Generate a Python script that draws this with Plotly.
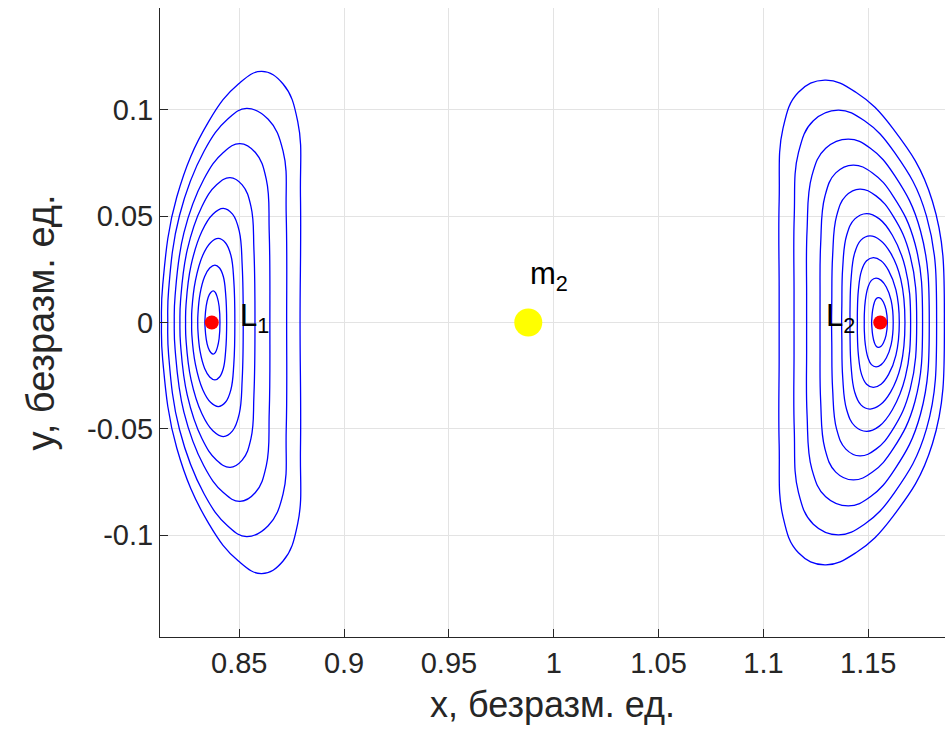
import plotly.graph_objects as go

# Earth-Moon CR3BP: planar Lyapunov orbit families around L1 and L2
L1_X = 0.8369
L2_X = 1.1557
M2_X = 0.98785

# Upper half of each orbit (the families are symmetric about y = 0).
# Points run from the left x-axis crossing, over the top, to the right crossing.
L1_ORBITS_X = [
    [0.8336, 0.8337, 0.8342, 0.8352, 0.8364, 0.8376, 0.8386, 0.8395, 0.8404, 0.8408],
    [0.8302, 0.8303, 0.8313, 0.8335, 0.8359, 0.8384, 0.8406, 0.8424, 0.8435, 0.8440],
    [0.8273, 0.8274, 0.8291, 0.8326, 0.8363, 0.8400, 0.8434, 0.8460, 0.8474, 0.8479],
    [0.8244, 0.8246, 0.8270, 0.8322, 0.8374, 0.8424, 0.8468, 0.8500, 0.8514, 0.8519],
    [0.8217, 0.8220, 0.8252, 0.8322, 0.8392, 0.8456, 0.8514, 0.8556, 0.8570, 0.8575],
    [0.8190, 0.8194, 0.8236, 0.8331, 0.8424, 0.8503, 0.8577, 0.8629, 0.8643, 0.8646],
    [0.8159, 0.8163, 0.8215, 0.8332, 0.8444, 0.8535, 0.8638, 0.8709, 0.8724, 0.8726],
    [0.8129, 0.8135, 0.8202, 0.8354, 0.8496, 0.8607, 0.8709, 0.8779, 0.8792, 0.8790],
]
L1_ORBITS_Y = [
    [0, 0.0022, 0.0075, 0.0119, 0.0141, 0.0149, 0.0141, 0.0119, 0.0075, 0],
    [0, 0.0040, 0.0135, 0.0216, 0.0256, 0.0270, 0.0256, 0.0216, 0.0135, 0],
    [0, 0.0059, 0.0197, 0.0316, 0.0375, 0.0395, 0.0375, 0.0316, 0.0197, 0],
    [0, 0.0080, 0.0268, 0.0429, 0.0509, 0.0536, 0.0509, 0.0429, 0.0268, 0],
    [0, 0.0102, 0.0341, 0.0545, 0.0647, 0.0681, 0.0647, 0.0545, 0.0341, 0],
    [0, 0.0126, 0.0421, 0.0673, 0.0799, 0.0841, 0.0799, 0.0673, 0.0421, 0],
    [0, 0.0151, 0.0503, 0.0805, 0.0955, 0.1006, 0.0955, 0.0805, 0.0503, 0],
    [0, 0.0177, 0.0590, 0.0944, 0.1121, 0.1180, 0.1121, 0.0944, 0.0590, 0],
]

L2_ORBITS_X = [
    [1.1516, 1.1517, 1.1521, 1.1529, 1.1538, 1.1548, 1.1561, 1.1573, 1.1585, 1.1591],
    [1.1481, 1.1481, 1.1486, 1.1499, 1.1515, 1.1537, 1.1562, 1.1586, 1.1609, 1.1619],
    [1.1448, 1.1448, 1.1453, 1.1468, 1.1492, 1.1524, 1.1561, 1.1597, 1.1632, 1.1648],
    [1.1413, 1.1413, 1.1418, 1.1435, 1.1465, 1.1508, 1.1557, 1.1607, 1.1655, 1.1675],
    [1.1373, 1.1374, 1.1378, 1.1397, 1.1436, 1.1492, 1.1553, 1.1615, 1.1677, 1.1702],
    [1.1325, 1.1326, 1.1330, 1.1349, 1.1393, 1.1460, 1.1537, 1.1618, 1.1700, 1.1731],
    [1.1270, 1.1270, 1.1273, 1.1293, 1.1345, 1.1428, 1.1520, 1.1620, 1.1723, 1.1759],
    [1.1206, 1.1206, 1.1208, 1.1231, 1.1297, 1.1405, 1.1510, 1.1627, 1.1749, 1.1791],
    [1.1146, 1.1146, 1.1147, 1.1167, 1.1238, 1.1357, 1.1482, 1.1626, 1.1778, 1.1826],
    [1.1075, 1.1075, 1.1075, 1.1093, 1.1167, 1.1293, 1.1441, 1.1618, 1.1806, 1.1863],
]
L2_ORBITS_Y = [
    [0, 0.0018, 0.0059, 0.0094, 0.0112, 0.0117, 0.0112, 0.0094, 0.0059, 0],
    [0, 0.0031, 0.0104, 0.0167, 0.0198, 0.0209, 0.0198, 0.0167, 0.0104, 0],
    [0, 0.0046, 0.0153, 0.0244, 0.0290, 0.0305, 0.0290, 0.0244, 0.0153, 0],
    [0, 0.0061, 0.0204, 0.0326, 0.0387, 0.0407, 0.0387, 0.0326, 0.0204, 0],
    [0, 0.0077, 0.0256, 0.0410, 0.0487, 0.0512, 0.0487, 0.0410, 0.0256, 0],
    [0, 0.0094, 0.0313, 0.0501, 0.0595, 0.0627, 0.0595, 0.0501, 0.0313, 0],
    [0, 0.0111, 0.0370, 0.0592, 0.0703, 0.0740, 0.0703, 0.0592, 0.0370, 0],
    [0, 0.0129, 0.0431, 0.0689, 0.0819, 0.0862, 0.0819, 0.0689, 0.0431, 0],
    [0, 0.0150, 0.0499, 0.0798, 0.0948, 0.0998, 0.0948, 0.0798, 0.0499, 0],
    [0, 0.0171, 0.0570, 0.0911, 0.1082, 0.1139, 0.1082, 0.0911, 0.0570, 0],
]

X_TICKS = [0.85, 0.9, 0.95, 1.0, 1.05, 1.1, 1.15]
X_TICK_TEXT = ["0.85", "0.9", "0.95", "1", "1.05", "1.1", "1.15"]
Y_TICKS = [-0.1, -0.05, 0.0, 0.05, 0.1]
Y_TICK_TEXT = ["-0.1", "-0.05", "0", "0.05", "0.1"]

FONT = "Liberation Sans, Arial, Helvetica, sans-serif"
INK = "#262626"


def closed_orbit(xs, ys):
    """Mirror an upper half-orbit about y = 0 and close the loop."""
    x_full = list(xs) + list(xs[-2:0:-1]) + [xs[0]]
    y_full = list(ys) + [-v for v in ys[-2:0:-1]] + [ys[0]]
    return x_full, y_full


fig = go.Figure()

for xs, ys in list(zip(L1_ORBITS_X, L1_ORBITS_Y)) + list(zip(L2_ORBITS_X, L2_ORBITS_Y)):
    xf, yf = closed_orbit(xs, ys)
    fig.add_trace(go.Scatter(
        x=xf, y=yf, mode="lines",
        line=dict(color="#0000FF", width=1.3, shape="spline", smoothing=1.2),
        hoverinfo="skip", showlegend=False,
    ))

fig.add_trace(go.Scatter(
    x=[L1_X, L2_X], y=[0, 0], mode="markers",
    marker=dict(color="#FF0000", size=14, line=dict(width=0)),
    showlegend=False,
))
fig.add_trace(go.Scatter(
    x=[M2_X], y=[0], mode="markers",
    marker=dict(color="#FFFF00", size=28, line=dict(width=0)),
    showlegend=False,
))

label_font = dict(family=FONT, size=31, color="#000000")
fig.add_annotation(x=L1_X + 0.0124, y=0.0022, text="L<sub>1</sub>", showarrow=False,
                   xanchor="left", yanchor="middle", font=label_font)
fig.add_annotation(x=L2_X - 0.0269, y=0.0022, text="L<sub>2</sub>", showarrow=False,
                   xanchor="left", yanchor="middle", font=label_font)
fig.add_annotation(x=M2_X, y=0.022, text="m<sub>2</sub>", showarrow=False,
                   xanchor="left", yanchor="middle", font=label_font)

axis_common = dict(
    showline=True, linecolor=INK, linewidth=1, mirror=False,
    ticks="inside", ticklen=8, tickwidth=1, tickcolor=INK,
    showgrid=True, gridcolor="#E3E3E3", gridwidth=1,
    zeroline=False,
    tickfont=dict(family=FONT, size=29, color=INK),
)

fig.update_layout(
    width=952, height=743,
    margin=dict(l=160, r=7, t=8, b=106),
    paper_bgcolor="white", plot_bgcolor="white",
    xaxis=dict(
        range=[0.8122, 1.1866], tickvals=X_TICKS, ticktext=X_TICK_TEXT,
        title=dict(text="x, безразм. ед.", font=dict(family=FONT, size=36, color=INK), standoff=14),
        **axis_common,
    ),
    yaxis=dict(
        range=[-0.1478, 0.1478], tickvals=Y_TICKS, ticktext=Y_TICK_TEXT,
        title=dict(text="y, безразм. ед.", font=dict(family=FONT, size=38, color=INK), standoff=20),
        **axis_common,
    ),
)

fig.write_html("out.html")
